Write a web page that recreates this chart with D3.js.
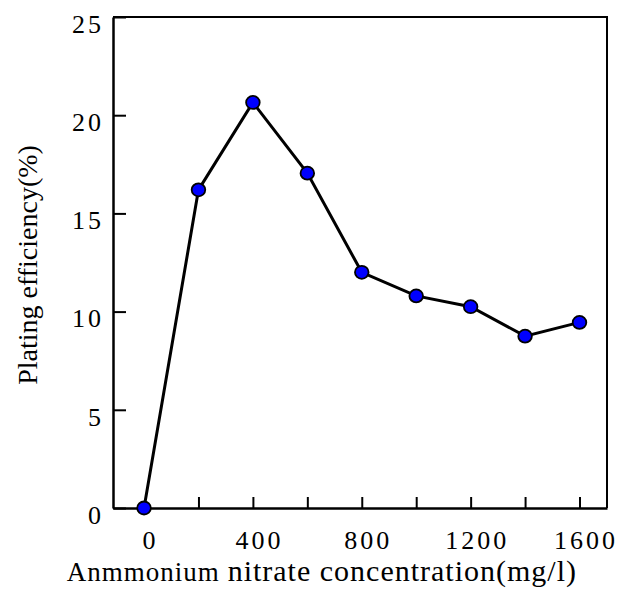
<!DOCTYPE html>
<html>
<head>
<meta charset="utf-8">
<script src="https://cdn.jsdelivr.net/npm/d3@7"></script>
<style>
  body { margin: 0; background: #fff; }
  svg { display: block; }
</style>
</head>
<body>
<div id="chart-area"></div>
<script>
// data
var concentration = [0, 200, 400, 600, 800, 1000, 1200, 1400, 1600];
var efficiency = [0, 16.2, 20.65, 17.05, 12.0, 10.8, 10.25, 8.75, 9.45];

var xTickValues = [200, 400, 600, 800, 1000, 1200, 1400, 1600];
var xTickLabels = [0, 400, 800, 1200, 1600];
var yTickValues = [0, 5, 10, 15, 20, 25];

var width = 640, height = 590;
var plot = { left: 113, right: 607, top: 17, bottom: 508 };

var svg = d3.select("#chart-area")
    .append("svg")
        .attr("width", width)
        .attr("height", height);

// x scale (0 sits a bit inside the left axis)
var x = d3.scaleLinear()
    .domain([-114, 1701])
    .range([plot.left, plot.right]);

// y scale
var y = d3.scaleLinear()
    .domain([0, 25])
    .range([plot.bottom, plot.top]);

var serif = "Liberation Serif, Times New Roman, serif";

// x axis, ticks pointing up
var xAxisCall = d3.axisBottom(x)
    .tickValues(xTickValues.concat([0]))
    .tickSizeInner(-11)
    .tickSizeOuter(0)
    .tickFormat(function(d){
        return xTickLabels.indexOf(d) >= 0 ? d : "";
    });

var xAxisGroup = svg.append("g")
    .attr("class", "x axis")
    .attr("transform", "translate(0," + plot.bottom + ")")
    .call(xAxisCall);

xAxisGroup.select(".domain")
    .attr("stroke", "#000")
    .attr("stroke-width", 2.5);
xAxisGroup.selectAll(".tick line")
    .attr("stroke", "#000")
    .attr("stroke-width", 2)
    .filter(function(d){ return d === 0; })
    .remove();
xAxisGroup.selectAll(".tick text")
    .attr("y", 41)
    .attr("dy", 0)
    .attr("dx", 6)
    .attr("fill", "#000")
    .attr("font-family", serif)
    .attr("font-size", "26px")
    .attr("letter-spacing", "3px");

// y axis, ticks pointing right
var yAxisCall = d3.axisLeft(y)
    .tickValues(yTickValues)
    .tickSizeInner(-13)
    .tickSizeOuter(0);

var yAxisGroup = svg.append("g")
    .attr("class", "y axis")
    .attr("transform", "translate(" + plot.left + ",0)")
    .call(yAxisCall);

yAxisGroup.select(".domain")
    .attr("stroke", "#000")
    .attr("stroke-width", 2.5);
yAxisGroup.selectAll(".tick line")
    .attr("stroke", "#000")
    .attr("stroke-width", 2);
yAxisGroup.selectAll(".tick text")
    .attr("x", -9)
    .attr("y", 7)
    .attr("fill", "#000")
    .attr("font-family", serif)
    .attr("font-size", "26px")
    .attr("letter-spacing", "3px");

// top and right frame
svg.append("path")
    .attr("d", "M" + plot.left + "," + plot.top + "H" + plot.right + "V" + plot.bottom)
    .attr("fill", "none")
    .attr("stroke", "#000")
    .attr("stroke-width", 2);

// line
var points = concentration.map(function(c, i){
    return { x: c, y: efficiency[i] };
});

var line = d3.line()
    .x(function(d){ return x(d.x); })
    .y(function(d){ return y(d.y); });

svg.append("path")
    .datum(points)
    .attr("d", line)
    .attr("fill", "none")
    .attr("stroke", "#000")
    .attr("stroke-width", 3);

// markers
svg.selectAll("ellipse.pt")
    .data(points)
    .enter()
    .append("ellipse")
        .attr("class", "pt")
        .attr("cx", function(d){ return x(d.x); })
        .attr("cy", function(d){ return y(d.y); })
        .attr("rx", 6.8)
        .attr("ry", 6.5)
        .attr("fill", "#0000ff")
        .attr("stroke", "#000")
        .attr("stroke-width", 1.8);

// label X
var labelX = svg.append("text")
    .attr("x", 577)
    .attr("y", 581)
    .attr("text-anchor", "end")
    .attr("font-family", serif)
    .attr("fill", "#000");
labelX.append("tspan")
    .attr("font-size", "27px")
    .attr("letter-spacing", "1px")
    .text("Anmmonium ");
labelX.append("tspan")
    .attr("font-size", "30px")
    .attr("letter-spacing", "1px")
    .text("nitrate concentration(mg/l)");

// label Y
svg.append("text")
    .attr("transform", "translate(37,265) rotate(-90)")
    .attr("text-anchor", "middle")
    .attr("font-family", serif)
    .attr("font-size", "28px")
    .attr("fill", "#000")
    .text("Plating efficiency(%)");
</script>
</body>
</html>
